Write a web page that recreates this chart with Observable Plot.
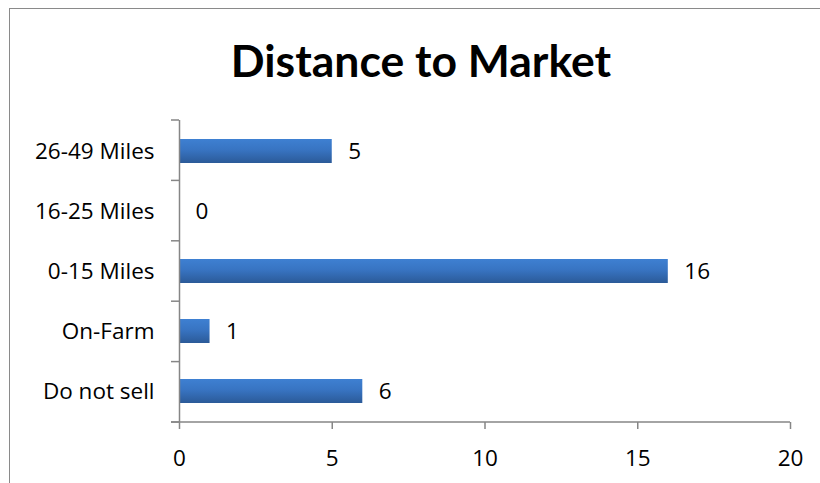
<!DOCTYPE html>
<html>
<head>
<meta charset="utf-8">
<script src="https://cdn.jsdelivr.net/npm/d3@7"></script>
<script src="https://cdn.jsdelivr.net/npm/@observablehq/plot@0.6"></script>
<style>
  html, body { margin: 0; padding: 0; background: #fff; overflow: hidden; }
  #wrap { position: relative; width: 820px; height: 483px; overflow: hidden; }
  #border { position: absolute; left: 9px; top: 8px; width: 900px; height: 600px; border: 1.5px solid #8a8a8a; box-sizing: border-box; }
  #title { position: absolute; left: 0; width: 842px; top: 34px; text-align: center;
           font-family: Lato, "Open Sans", sans-serif; font-weight: bold; font-size: 44.5px; color: #000; line-height: 52px; }
  #chart { position: absolute; left: 0; top: 0; }
  #chart svg { font-family: "Open Sans", Lato, sans-serif; }
</style>
</head>
<body>
<div id="wrap">
  <div id="border"></div>
  <div id="title">Distance to Market</div>
  <div id="chart"></div>
</div>
<script>
const categories = ["26-49 Miles", "16-25 Miles", "0-15 Miles", "On-Farm", "Do not sell"];
const values = [5, 0, 16, 1, 6];
const xTicks = [0, 5, 10, 15, 20];

const data = categories.map((c, i) => ({category: c, value: values[i]}));

const W = 820, H = 483;
const mTop = 120, mBottom = 61, mLeft = 179, mRight = 30;
const axisColor = "#868686";
const fs = 22.5;

const plot = Plot.plot({
  width: W,
  height: H,
  marginTop: mTop,
  marginBottom: mBottom,
  marginLeft: mLeft,
  marginRight: mRight,
  style: {background: "transparent", fontSize: fs + "px", color: "#000"},
  x: {domain: [0, 20], ticks: xTicks, label: null},
  y: {domain: categories, paddingInner: 0.6, paddingOuter: 0.3, label: null},
  marks: [
    Plot.barX(data, {x: "value", y: "category", fill: "url(#barGrad)", filter: d => d.value > 0,
      style: {filter: "url(#barShadow)"}}),
    Plot.text(data, {x: "value", y: "category", text: d => String(d.value), textAnchor: "start", dx: 16,
      fontSize: fs, fill: "#000"}),
    Plot.axisX({ticks: xTicks, tickSize: 7, tickPadding: 21, stroke: axisColor, strokeWidth: 1.5,
      fontSize: fs, fill: "#000", label: null}),
    Plot.axisY({tickSize: 0, tickPadding: 25, fontSize: fs, fill: "#000", label: null}),
    Plot.ruleX([0], {stroke: axisColor, strokeWidth: 1.5})
  ]
});

// defs: gradient + shadow
const svg = d3.select(plot);
const defs = svg.insert("defs", ":first-child");
const g = defs.append("linearGradient").attr("id", "barGrad").attr("x1", 0).attr("y1", 0).attr("x2", 0).attr("y2", 1);
g.append("stop").attr("offset", "0%").attr("stop-color", "#3e80d2");
g.append("stop").attr("offset", "45%").attr("stop-color", "#3874c2");
g.append("stop").attr("offset", "100%").attr("stop-color", "#2b5a98");
const f = defs.append("filter").attr("id", "barShadow").attr("x", "-10%").attr("y", "-30%").attr("width", "130%").attr("height", "180%");
f.append("feDropShadow").attr("dx", 2).attr("dy", 3).attr("stdDeviation", 2).attr("flood-color", "#000").attr("flood-opacity", 0.3);

// y-axis category-boundary ticks and x-axis baseline, derived from the plot's scales
const ys = plot.scale("y");
const xs = plot.scale("x");
const band = d3.scaleBand(ys.domain, ys.range)
  .paddingInner(ys.paddingInner ?? 0.6).paddingOuter(ys.paddingOuter ?? 0.3).align(ys.align ?? 0.5);
const xScale = d3.scaleLinear(xs.domain, xs.range);
const gap = (band.step() - band.bandwidth()) / 2;
const bounds = categories.map(c => band(c) - gap);
bounds.push(band(categories[categories.length - 1]) + band.bandwidth() + gap);
const x0 = xScale(0);
const tg = svg.append("g").attr("stroke", axisColor).attr("stroke-width", 1.5);
bounds.forEach(y => tg.append("line").attr("x1", x0 - 8).attr("x2", x0).attr("y1", y).attr("y2", y));
const yb = bounds[bounds.length - 1];
tg.append("line").attr("x1", x0 - 8).attr("x2", xScale(20)).attr("y1", yb).attr("y2", yb);

document.getElementById("chart").appendChild(plot);
</script>
</body>
</html>
